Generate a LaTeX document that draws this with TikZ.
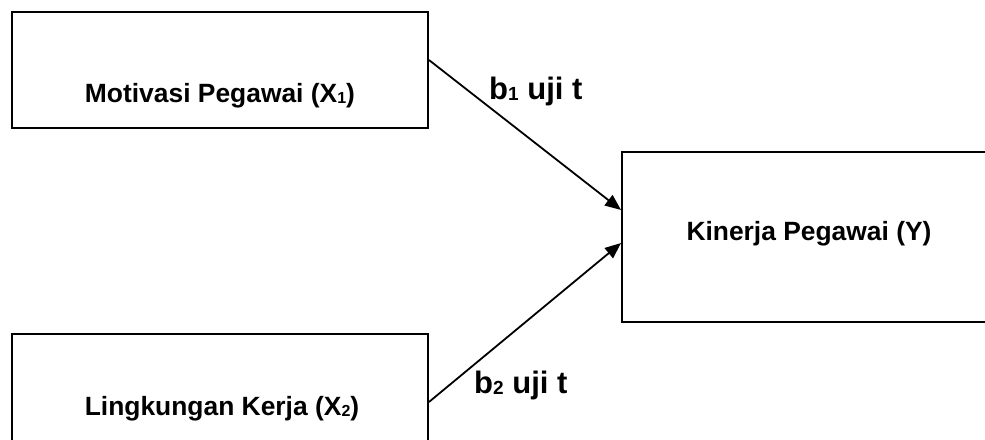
\documentclass[tikz,border=0pt]{standalone}
\usepackage{fontspec}
\setmainfont{Liberation Sans}
\usetikzlibrary{arrows.meta}
% smaller, slightly lowered index digit
\newcommand\subidx[2]{{\fontsize{#1}{#1}\selectfont\raisebox{-1.5pt}{#2}}}
\begin{document}
\begin{tikzpicture}[x=1pt,y=-1pt,
  box/.style={draw, line width=1.9pt, rectangle, inner sep=0pt},
  boxtext/.style={font=\fontsize{26.4}{30}\selectfont\bfseries, anchor=base, inner sep=0pt},
  pathtext/.style={font=\fontsize{31}{36}\selectfont\bfseries, anchor=base west, inner sep=0pt},
  link/.style={line width=1.8pt, -{Triangle[length=16pt,width=13pt]}}]
\useasboundingbox (0,0) rectangle (985,439);
\clip (0,0) rectangle (985,439);

% variable boxes
\node[box, minimum width=416pt, minimum height=116pt] (mot) at (220,70) {};
\node[box, minimum width=374pt, minimum height=170pt] (kin) at (809,237) {};
\node[box, minimum width=416pt, minimum height=136pt] (lin) at (220,402) {};

% box titles
\node[boxtext] (motlabel) at (220,102) {Motivasi Pegawai (X\subidx{16}{1})};
\node[boxtext] (kinlabel) at (809,240) {Kinerja Pegawai (Y)};
\node[boxtext] (linlabel) at (222,415) {Lingkungan Kerja (X\subidx{16}{2})};

% influence paths
\draw[link] ([yshift=10pt]mot.east) -- ([yshift=27pt]kin.west);
\draw[link] (lin.east) -- ([yshift=-6pt]kin.west);

% path labels
\node[pathtext] (b1) at (489,99) {b\subidx{19}{1} uji t};
\node[pathtext] (b2) at (474,393) {b\subidx{19}{2} uji t};
\end{tikzpicture}
\end{document}
